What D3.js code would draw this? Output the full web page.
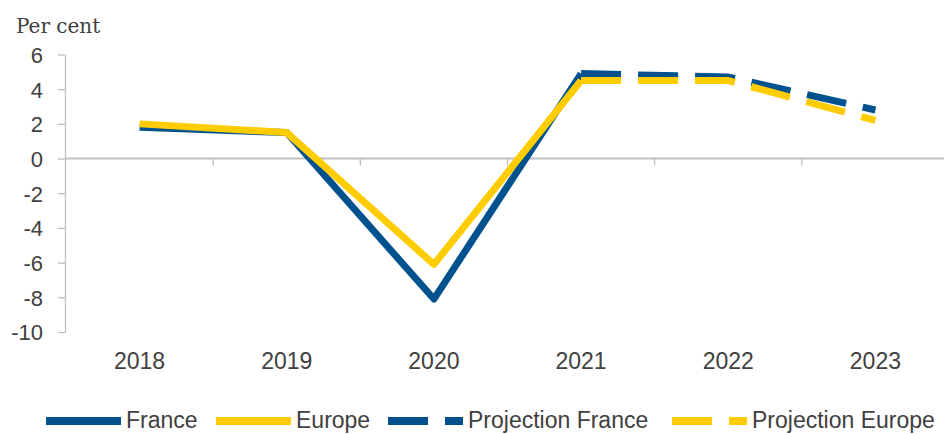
<!DOCTYPE html>
<html>
<head>
<meta charset="utf-8">
<script src="https://d3js.org/d3.v7.min.js"></script>
<style>
  body { margin: 0; background: #fff; }
  svg text { fill: #404040; font-family: "Liberation Sans", Arial, sans-serif; }
</style>
</head>
<body>
<div id="chart"></div>
<script>
// data
var years = ["2018", "2019", "2020", "2021", "2022", "2023"];
var france = [1.8, 1.5, -8.1, 4.9, null, null];
var europe = [2.0, 1.5, -6.1, 4.5, null, null];
var projFrance = [null, null, null, 4.9, 4.7, 2.8];
var projEurope = [null, null, null, 4.5, 4.5, 2.2];
var yTicks = [-10, -8, -6, -4, -2, 0, 2, 4, 6];
var seriesNames = ["France", "Europe", "Projection France", "Projection Europe"];

var blue = "#00528f", yellow = "#ffcc00", grey = "#bfbfbf";

var width = 944, height = 434;

var svg = d3.select("#chart").append("svg")
  .attr("width", width)
  .attr("height", height);

var x = d3.scaleBand().domain(years).range([66, 949]);
var y = d3.scaleLinear().domain([-10, 6]).range([332, 54.5]);
function cx(d) { return x(d) + x.bandwidth() / 2; }

// y axis (plain hyphen for negatives, like the original)
var yAxis = svg.append("g")
  .attr("transform", "translate(65,0)")
  .call(d3.axisLeft(y).tickValues(yTicks).tickFormat(function(d) { return String(d); })
    .tickSize(7).tickPadding(15).tickSizeOuter(0));
yAxis.selectAll("line, path").attr("stroke", grey).attr("stroke-width", 1.3);
yAxis.selectAll("text").style("font-size", "22px").attr("dy", "0.36em");

// unit label
svg.append("text")
  .attr("x", 16)
  .attr("y", 33)
  .style("font-family", "'DejaVu Serif', Georgia, serif")
  .style("font-size", "20px")
  .text("Per cent");

// x axis line at zero with ticks between categories
svg.append("line")
  .attr("x1", 65).attr("x2", width)
  .attr("y1", y(0)).attr("y2", y(0))
  .attr("stroke", grey).attr("stroke-width", 2);
svg.selectAll(".xtick")
  .data(years.slice(1))
  .enter().append("line")
  .attr("x1", function(d) { return x(d); })
  .attr("x2", function(d) { return x(d); })
  .attr("y1", y(0))
  .attr("y2", y(0) + 7)
  .attr("stroke", grey).attr("stroke-width", 1.3);

// year labels
svg.selectAll(".xlabel")
  .data(years)
  .enter().append("text")
  .attr("x", cx)
  .attr("y", 369)
  .attr("text-anchor", "middle")
  .style("font-size", "23px")
  .text(function(d) { return d; });

// lines
var line = d3.line()
  .defined(function(d) { return d != null; })
  .x(function(d, i) { return cx(years[i]); })
  .y(function(d) { return y(d); });

var series = [
  { values: france, color: blue, dash: null },
  { values: europe, color: yellow, dash: null },
  { values: projFrance, color: blue, dash: "40,17" },
  { values: projEurope, color: yellow, dash: "40,17" }
];

svg.selectAll(".series")
  .data(series)
  .enter().append("path")
  .attr("d", function(d) { return line(d.values); })
  .attr("fill", "none")
  .attr("stroke", function(d) { return d.color; })
  .attr("stroke-width", 7)
  .attr("stroke-linejoin", "round")
  .attr("stroke-dasharray", function(d) { return d.dash; });

// legend
var legendX = [46, 216, 388, 672];
var legend = svg.selectAll(".legend")
  .data(series)
  .enter().append("g")
  .attr("transform", function(d, i) { return "translate(" + legendX[i] + ",421)"; });
legend.append("line")
  .attr("x1", 0).attr("x2", 75)
  .attr("stroke", function(d) { return d.color; })
  .attr("stroke-width", 8)
  .attr("stroke-dasharray", function(d) { return d.dash; });
legend.append("text")
  .attr("x", 80)
  .attr("y", 7)
  .style("font-size", "23px")
  .text(function(d, i) { return seriesNames[i]; });
</script>
</body>
</html>
